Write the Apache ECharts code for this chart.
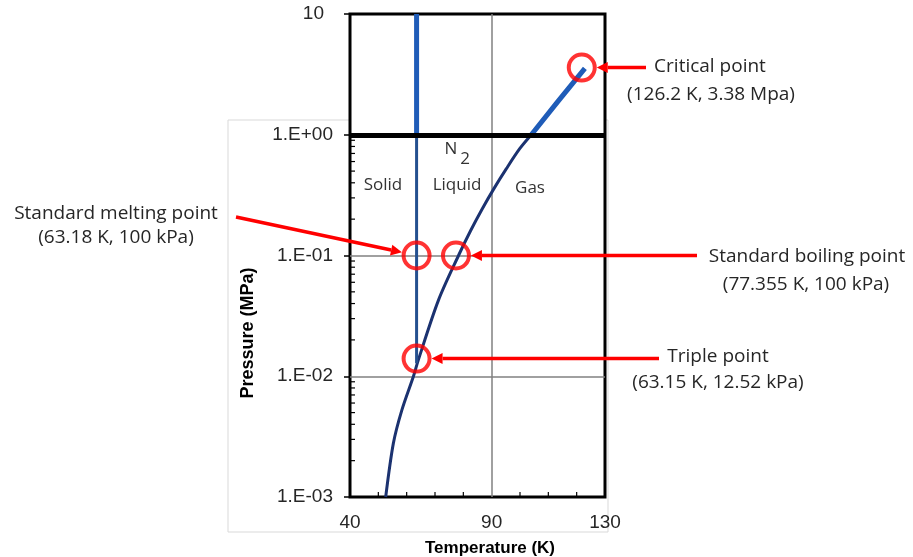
<!DOCTYPE html>
<html>
<head>
<meta charset="utf-8">
<script src="https://cdn.jsdelivr.net/npm/echarts@6/dist/echarts.min.js"></script>
<style>
  html, body { margin: 0; padding: 0; background: #fff; }
  #chart { width: 913px; height: 557px; }
</style>
</head>
<body>
<div id="chart"></div>
<script>
// N2 phase diagram (T in K, P in MPa)
const xMinorTicks = [50, 60, 70, 80, 100, 110, 120];
const yMinorTicks = [
  0.002, 0.003, 0.004, 0.005, 0.006, 0.007, 0.008, 0.009,
  0.02, 0.03, 0.04, 0.05, 0.06, 0.07, 0.08, 0.09,
  0.2, 0.3, 0.4, 0.5, 0.6, 0.7, 0.8, 0.9
];
const meltingLow = [[63.5, 0.0128], [63.5, 1]];
const meltingHigh = [[63.5, 1], [63.5, 10]];
const vaporLow = [
  [52.6, 0.001], [55.3, 0.00278], [58.3, 0.00524],
  [62.4, 0.01], [64.1, 0.0136], [71.2, 0.0425], [78.3, 0.1],
  [82.6, 0.161], [86.7, 0.244], [90.8, 0.358], [95.2, 0.524],
  [99.9, 0.766], [104.0, 1.0]
];
const vaporHigh = [[104.0, 1.0], [113.4, 1.89], [122.9, 3.55]];
// circled points
const circled = [
  { name: 'critical', value: [121.8, 3.6] },
  { name: 'melting', value: [63.5, 0.1] },
  { name: 'boiling', value: [77.4, 0.1] },
  { name: 'triple', value: [63.5, 0.014] }
];

const chart = echarts.init(document.getElementById('chart'));

function yLabel(v) {
  const e = Math.round(Math.log10(v));
  if (e === 1) return '{t|10}';
  return '1.E' + (e < 0 ? '-' : '+') + String(Math.abs(e)).padStart(2, '0');
}

const tickFont = { fontFamily: 'Liberation Sans', fontSize: 19, color: '#262626' };
const noteFont = { fontFamily: 'Open Sans', fontSize: 19, fill: '#262626' };
const regionFont = { fontFamily: 'Open Sans', fontSize: 17, fill: '#333' };

function text(str, x, y, font, extra) {
  return Object.assign({
    type: 'text', x: x, y: y, z: 50,
    style: Object.assign({ text: str, align: 'center', verticalAlign: 'middle' }, font)
  }, extra || {});
}

const option = {
  animation: false,
  backgroundColor: '#fff',
  grid: {
    left: 350, right: 308, top: 14, bottom: 60,
    containLabel: false,
    show: true, backgroundColor: '#fff',
    borderColor: '#000', borderWidth: 3
  },
  xAxis: {
    type: 'value', min: 40, max: 130, interval: 50,
    axisLine: { show: false },
    axisTick: { show: false },
    axisLabel: Object.assign({ margin: 16 }, tickFont),
    splitLine: { show: true, showMinLine: false, showMaxLine: false,
      lineStyle: { color: '#808080', width: 1.5 } }
  },
  yAxis: {
    type: 'log', logBase: 10, min: 0.001, max: 10,
    axisLine: { show: false },
    axisTick: { show: true, inside: false, length: 6, lineStyle: { color: '#000', width: 1.5 } },
    axisLabel: Object.assign({
      margin: 17, formatter: yLabel,
      rich: { t: Object.assign({ padding: [0, 9, 0, 0] }, tickFont) }
    }, tickFont),
    splitLine: { show: true, showMinLine: false, showMaxLine: false,
      lineStyle: { color: '#808080', width: 1.5 } }
  },
  series: [
    {
      type: 'line', data: vaporLow, showSymbol: false, symbol: 'none', smooth: 0.3,
      lineStyle: { color: '#1b3270', width: 3 }, z: 3,
      markLine: {
        silent: true, symbol: 'none', label: { show: false },
        lineStyle: { color: '#000', width: 5, type: 'solid' },
        data: [{ yAxis: 1 }]
      }
    },
    {
      type: 'line', data: meltingLow, showSymbol: false, symbol: 'none',
      lineStyle: { color: '#24508f', width: 3 }, z: 3
    },
    {
      type: 'line', data: vaporHigh, showSymbol: false, symbol: 'none',
      lineStyle: { color: '#1f5cb8', width: 5 }, z: 3
    },
    {
      type: 'line', data: meltingHigh, showSymbol: false, symbol: 'none',
      lineStyle: { color: '#1f5cb8', width: 5 }, z: 3
    },
    {
      type: 'scatter', data: circled, symbol: 'circle', symbolSize: 26, z: 6,
      itemStyle: { color: 'rgba(0,0,0,0)', borderColor: '#ff0000', borderWidth: 4 }
    },
    {
      // minor ticks on the pressure axis (inside)
      type: 'custom', z: 4, silent: true,
      data: yMinorTicks.map(v => [40, v]),
      renderItem: function (params, api) {
        const p = api.coord([api.value(0), api.value(1)]);
        return { type: 'line', shape: { x1: p[0], y1: p[1], x2: p[0] + 5, y2: p[1] },
          style: { stroke: '#000', lineWidth: 1.2 } };
      }
    },
    {
      // minor ticks on the temperature axis (inside)
      type: 'custom', z: 4, silent: true,
      data: xMinorTicks.map(v => [v, 0.001]),
      renderItem: function (params, api) {
        const p = api.coord([api.value(0), api.value(1)]);
        return { type: 'line', shape: { x1: p[0], y1: p[1], x2: p[0], y2: p[1] - 5 },
          style: { stroke: '#000', lineWidth: 1.2 } };
      }
    }
  ]
};

chart.setOption(option);

// annotations: arrows point at the circled points
function px(v) { return chart.convertToPixel({ xAxisIndex: 0, yAxisIndex: 0 }, v); }
function arrow(x1, y1, x2, y2) {
  const ang = Math.atan2(y2 - y1, x2 - x1);
  const L = 11, W = 5.5;
  const bx = x2 - L * Math.cos(ang), by = y2 - L * Math.sin(ang);
  const nx = -Math.sin(ang), ny = Math.cos(ang);
  return [
    { type: 'line', z: 40, shape: { x1: x1, y1: y1, x2: bx, y2: by },
      style: { stroke: '#ff0000', lineWidth: 3.5 } },
    { type: 'polygon', z: 40,
      shape: { points: [[x2, y2], [bx + nx * W, by + ny * W], [bx - nx * W, by - ny * W]] },
      style: { fill: '#ff0000' } }
  ];
}
const R = 15;
const cCrit = px(circled[0].value), cMelt = px(circled[1].value),
      cBoil = px(circled[2].value), cTrip = px(circled[3].value);
function tipToward(c, sx, sy) {
  const d = Math.hypot(sx - c[0], sy - c[1]);
  return [c[0] + (sx - c[0]) / d * R, c[1] + (sy - c[1]) / d * R];
}
const tCrit = tipToward(cCrit, 646, cCrit[1]);
const tMelt = tipToward(cMelt, 236, 217);
const tBoil = tipToward(cBoil, 697, cBoil[1]);
const tTrip = tipToward(cTrip, 659, cTrip[1]);

const graphics = [
  { type: 'rect', z: -10, shape: { x: 228, y: 120, width: 380, height: 412 },
    style: { fill: '#fff', stroke: '#d9d9d9', lineWidth: 1 } }
]
  .concat(arrow(646, cCrit[1], tCrit[0], tCrit[1]))
  .concat(arrow(236, 217, tMelt[0], tMelt[1]))
  .concat(arrow(697, cBoil[1], tBoil[0], tBoil[1]))
  .concat(arrow(659, cTrip[1], tTrip[0], tTrip[1]))
  .concat([
    text('Critical point', 710, 67, noteFont),
    text('(126.2 K, 3.38 Mpa)', 711, 95, noteFont),
    text('Standard melting point', 116, 214, noteFont),
    text('(63.18 K, 100 kPa)', 116, 238, noteFont),
    text('Standard boiling point', 807, 257, noteFont),
    text('(77.355 K, 100 kPa)', 806, 285, noteFont),
    text('Triple point', 718, 357, noteFont),
    text('(63.15 K, 12.52 kPa)', 718, 383, noteFont),
    text('Solid', 383, 185, regionFont),
    text('Liquid', 457, 185, regionFont),
    text('Gas', 530, 188, regionFont),
    text('N', 451, 149, regionFont),
    text('2', 465, 159, regionFont),
    text('Pressure (MPa)', 248, 333,
      { fontFamily: 'Liberation Sans', fontSize: 18, fontWeight: 'bold', fill: '#000' },
      { rotation: Math.PI / 2 }),
    text('Temperature (K)', 490, 548,
      { fontFamily: 'Liberation Sans', fontSize: 17, fontWeight: 'bold', fill: '#000' })
  ]);

chart.setOption({ graphic: graphics });
</script>
</body>
</html>
